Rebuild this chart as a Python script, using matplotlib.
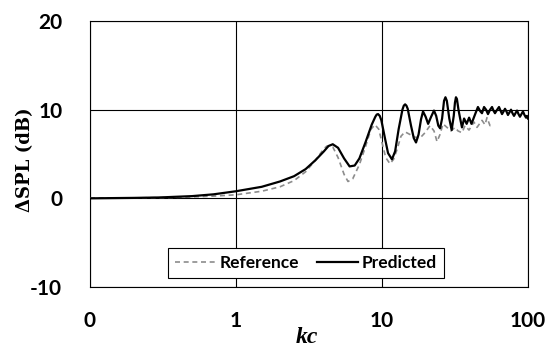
#!/usr/bin/env python

import matplotlib as mpl
from matplotlib import pyplot as plt
from matplotlib.ticker import FixedLocator, FixedFormatter, NullLocator

# Reference spectrum (dashed grey)
ref_kc = [0.1, 0.2, 0.3, 0.5, 0.7, 1.0, 1.5, 2.0, 2.5, 3.0, 3.5, 4.0, 4.2,
          4.6, 5.0, 5.5, 5.85, 6.3, 7.0, 7.7, 8.4, 8.95, 9.5, 10.0, 10.6,
          11.34, 12.0, 12.67, 13.49, 14.37, 15.55, 16.83, 18.21, 19.71,
          21.32, 22.71, 23.81, 24.96, 26.17, 27.87, 29.70, 31.62, 33.16,
          35.31, 37.02, 39.44, 42.67, 44.74, 48.40, 50.75, 52.38, 54.91,
          56.67]
ref_dspl = [0.05, 0.05, 0.08, 0.15, 0.25, 0.4, 0.8, 1.3, 2.0, 3.0, 4.3, 5.6,
            5.9, 5.8, 4.6, 2.7, 1.9, 2.2, 3.8, 5.8, 7.8, 8.3, 7.8, 6.3, 4.6,
            3.9, 4.4, 5.5, 7.0, 7.5, 7.2, 6.9, 6.8, 7.4, 8.2, 7.6, 6.4, 7.2,
            8.4, 8.0, 7.6, 8.0, 7.6, 7.4, 8.2, 7.7, 8.6, 8.0, 8.8, 8.3, 9.1,
            8.2, 8.3]

# Predicted spectrum (solid black)
pred_kc = [0.1, 0.2, 0.3, 0.5, 0.7, 1.0, 1.5, 2.0, 2.5, 3.0, 3.5, 4.0, 4.3,
           4.6, 5.0, 5.5, 6.0, 6.5, 7.0, 7.7, 8.5, 9.0, 9.2, 9.4, 9.65, 9.9,
           10.5, 11.0, 11.7, 12.3, 13.0, 13.8, 14.1, 14.4, 14.7, 15.0, 15.8,
           16.5, 17.1, 17.8, 18.5, 19.1, 19.9, 20.7, 21.7, 22.7, 23.5, 24.3,
           25.0, 25.8, 26.6, 27.2, 27.8, 28.9, 30.0, 31.0, 31.6, 32.1, 32.6,
           33.4, 34.3, 35.3, 36.5, 38.0, 39.5, 41.0, 43.0, 45.4, 47.2, 48.4,
           50.0, 51.6, 53.2, 55.0, 56.7, 58.0, 59.4, 61.5, 63.3, 64.8, 66.4,
           68.0, 69.6, 71.2, 72.9, 74.7, 76.5, 78.3, 80.2, 82.1, 84.1, 86.1,
           88.1, 90.2, 92.4, 94.6, 96.9, 98.5, 100.0]
pred_dspl = [0.0, 0.05, 0.1, 0.25, 0.45, 0.8, 1.3, 1.9, 2.5, 3.3, 4.3, 5.3,
             5.9, 6.1, 5.7, 4.5, 3.6, 3.7, 4.5, 6.3, 8.3, 9.2, 9.45, 9.5, 9.3,
             8.8, 6.7, 5.1, 4.4, 5.3, 7.8, 10.0, 10.45, 10.6, 10.45, 10.1,
             8.2, 6.8, 6.3, 7.2, 8.9, 9.8, 9.2, 8.4, 9.2, 9.9, 9.3, 8.2, 7.9,
             9.0, 11.0, 11.4, 11.0, 9.0, 7.7, 9.3, 10.8, 11.4, 11.2, 10.0,
             9.0, 8.0, 9.0, 8.4, 9.1, 8.4, 9.3, 10.3, 9.8, 9.6, 10.3, 10.0,
             9.5, 10.0, 10.3, 9.9, 9.6, 10.0, 10.3, 9.9, 9.5, 9.8, 10.1, 9.8,
             9.4, 9.7, 10.0, 9.6, 9.3, 9.6, 9.9, 9.5, 9.2, 9.5, 9.8, 9.4,
             9.1, 9.3, 9.0]

x_ticks = [0.1, 1, 10, 100]
x_ticklabels = ['0', '1', '10', '100']
y_ticks = [-10, 0, 10, 20]


def main():
    mpl.rcParams.update({'font.family': 'Lato', 'font.weight': 'bold',
                         'axes.linewidth': 0.8})

    fig = plt.figure(figsize=(5.5, 3.47), dpi=100)
    ax = fig.add_axes([90/550, 1 - 287/347, 438/550, 266/347])

    ax.plot(ref_kc, ref_dspl, color='#8c8c8c', linewidth=1.2,
            dashes=(3, 2.2), label='Reference', zorder=3)
    ax.plot(pred_kc, pred_dspl, color='black', linewidth=1.6,
            label='Predicted', zorder=4)

    ax.set_xscale('log')
    ax.set_xlim(0.1, 100)
    ax.set_ylim(-10, 20)
    ax.xaxis.set_major_locator(FixedLocator(x_ticks))
    ax.xaxis.set_major_formatter(FixedFormatter(x_ticklabels))
    ax.xaxis.set_minor_locator(NullLocator())
    ax.set_yticks(y_ticks)
    ax.set_yticklabels([str(v) for v in y_ticks])

    ax.grid(True, color='black', linewidth=0.8)
    ax.set_axisbelow(True)
    ax.tick_params(length=0, labelsize=15)
    ax.tick_params(axis='x', pad=17)
    ax.tick_params(axis='y', pad=20)

    ax.set_xlabel('kc', family='Liberation Serif', style='italic',
                  weight='bold', fontsize=17)
    ax.xaxis.set_label_coords(0.495, -0.152)
    ax.set_ylabel('ΔSPL (dB)', family='DejaVu Serif', weight='bold',
                  fontsize=13)
    ax.yaxis.set_label_coords(-0.128, 0.48)

    leg = ax.legend(loc='lower center', bbox_to_anchor=(0.493, 0.035),
                    ncol=2, fontsize=12.5, frameon=True, fancybox=False,
                    framealpha=1, edgecolor='black', handlelength=2.4,
                    handletextpad=0.2, columnspacing=1.0,
                    borderpad=0.4, borderaxespad=0)
    leg.get_frame().set_linewidth(0.8)

    fig.savefig('out.png', dpi=100)


if __name__ == '__main__':
    main()
